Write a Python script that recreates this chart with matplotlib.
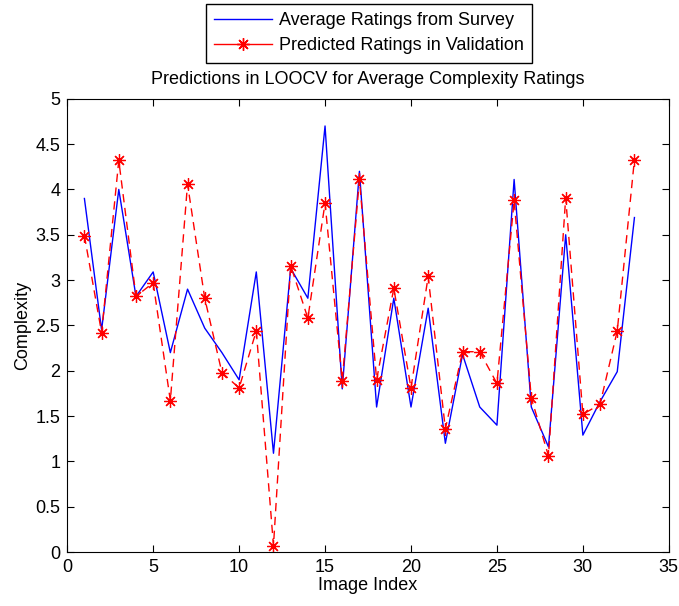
import matplotlib
matplotlib.use("Agg")
import matplotlib.pyplot as plt
from matplotlib.lines import Line2D

plt.rcParams['font.family'] = ['Liberation Sans', 'DejaVu Sans']

# image index 1..33
image_index = list(range(1, 34))

# average ratings from survey (blue)
survey = [3.9, 2.45, 4.0, 2.82, 3.09, 2.2, 2.9, 2.47, 2.2, 1.9,
          3.09, 1.09, 3.13, 2.8, 4.7, 1.8, 4.2, 1.6, 2.8, 1.6,
          2.69, 1.2, 2.18, 1.6, 1.4, 4.11, 1.6, 1.16, 3.5, 1.29,
          1.66, 1.99, 3.69]

# predicted ratings in validation (red)
predicted = [3.49, 2.42, 4.32, 2.82, 2.97, 1.67, 4.06, 2.8, 1.98, 1.81,
             2.44, 0.07, 3.16, 2.58, 3.85, 1.89, 4.11, 1.9, 2.91, 1.81,
             3.04, 1.36, 2.21, 2.21, 1.86, 3.88, 1.7, 1.06, 3.91, 1.52,
             1.63, 2.44, 4.33]

star = (8, 2, 0)  # matlab style asterisk

fig = plt.figure(figsize=(6.79, 6.06), dpi=100)
ax = fig.add_axes([0.099, 0.089, 0.886, 0.748])

ax.plot(image_index, survey, color='#0000ff', lw=1.0)
ax.plot(image_index, predicted, color='#ff0000', lw=1.0, linestyle=(0, (6, 4)),
        marker=star, markersize=9, markeredgewidth=0.9)

ax.set_xlim(0, 35)
ax.set_ylim(0, 5)
ax.set_xticks(range(0, 36, 5))
ax.set_yticks([0, 0.5, 1, 1.5, 2, 2.5, 3, 3.5, 4, 4.5, 5])
ax.set_yticklabels(['0', '0.5', '1', '1.5', '2', '2.5', '3', '3.5', '4', '4.5', '5'])
ax.tick_params(direction='in', top=True, right=True, labelsize=13, length=5, pad=5)
ax.set_xlabel('Image Index', fontsize=13, labelpad=1)
ax.set_ylabel('Complexity', fontsize=13, labelpad=3)
ax.set_title('Predictions in LOOCV for Average Complexity Ratings', fontsize=13, pad=11)

handles = [Line2D([], [], color='#0000ff', lw=1.0),
           Line2D([], [], color='#ff0000', lw=1.0, marker=star, markersize=9)]
fig.legend(handles, ['Average Ratings from Survey', 'Predicted Ratings in Validation'],
           loc='upper center', bbox_to_anchor=(0.543, 0.993), borderaxespad=0,
           fontsize=13, frameon=True, fancybox=False, edgecolor='black',
           framealpha=1, handlelength=3.2, handletextpad=0.4,
           borderpad=0.45, labelspacing=0.45)

fig.savefig('out.png', dpi=100)
